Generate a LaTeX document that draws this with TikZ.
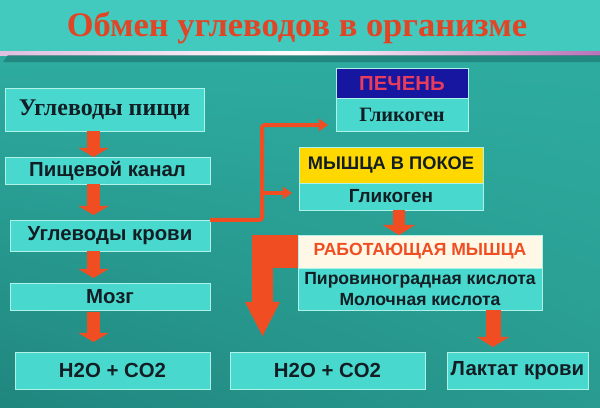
\documentclass[tikz,border=0pt]{standalone}
\usepackage{fontspec}
\setmainfont{Liberation Serif}
\setsansfont{Liberation Sans}
\usetikzlibrary{arrows.meta, shadings}
\definecolor{titlebg}{RGB}{66,202,190}
\definecolor{bodytop}{RGB}{46,172,160}
\definecolor{bodylow}{RGB}{32,134,126}
\definecolor{boxfill}{RGB}{72,216,206}
\definecolor{boxline}{RGB}{175,242,232}
\definecolor{arrowred}{RGB}{240,78,34}
\definecolor{titlered}{RGB}{224,70,38}
\definecolor{liverblue}{RGB}{22,22,160}
\definecolor{liverpink}{RGB}{232,60,92}
\definecolor{restyellow}{RGB}{255,216,0}
\definecolor{workcream}{RGB}{255,248,230}
\definecolor{inktext}{RGB}{18,30,36}
\tikzstyle{box}=[draw=boxline, line width=0.6pt, fill=boxfill, inner sep=0, outer sep=0, text=inktext]
\tikzstyle{sanslbl}=[font=\sffamily\bfseries\fontsize{14.5}{16}\selectfont]
\tikzstyle{seriflbl}=[font=\rmfamily\bfseries\fontsize{17}{19}\selectfont]
\tikzstyle{fatarrow}=[draw=arrowred, line width=0.325cm, -{Triangle[width=0.75cm,length=0.225cm]}]
\tikzstyle{thinline}=[draw=arrowred, line width=0.1cm, rounded corners=2pt, -{Triangle[width=0.3cm,length=0.225cm]}]

\begin{document}
\begin{tikzpicture}[x=0.025cm, y=-0.025cm]
\useasboundingbox (0,0) rectangle (600,408);
% background
\fill[titlebg] (0,0) rectangle (600,52);
\shade[upper left=bodytop, upper right=bodytop, lower left=bodylow, lower right=bodytop!90!black] (0,52) rectangle (600,408);
\shade[left color=violet!25!white, right color=violet!55!white, middle color=white] (0,51) rectangle (600,55);
\fill[bodylow!85!black, opacity=.6] (8,55) -- (600,55) -- (600,62) -- (3,62) -- cycle;
% title
\node[font=\rmfamily\bfseries\fontsize{24.5}{28}\selectfont, text=titlered] (title) at (297,28) {Обмен углеводов в организме};
% left column
\node at (104.5,109.5)[box, seriflbl, minimum width=4.975cm, minimum height=1.075cm](food){Углеводы пищи};
\node at (107.5,170.5)[box, sanslbl, minimum width=5.125cm, minimum height=0.675cm](canal){Пищевой канал};
\node at (110,235.5)[box, sanslbl, minimum width=5cm, minimum height=0.775cm](blood){Углеводы крови};
\node at (110,296.5)[box, sanslbl, minimum width=5cm, minimum height=0.675cm](brain){Мозг};
\node at (112.5,370.5)[box, sanslbl, minimum width=4.875cm, minimum height=0.925cm](outa){H2O + CO2};
% bottom row
\node at (327.5,370.5)[box, sanslbl, minimum width=4.875cm, minimum height=0.925cm](outb){H2O + CO2};
\node at (517.5,370.5)[box, sanslbl, minimum width=3.525cm, minimum height=0.925cm](lactate){Лактат крови};
% liver
\node at (402,83)[box, fill=liverblue, text=liverpink, sanslbl, minimum width=3.3cm, minimum height=0.75cm](liverhead){ПЕЧЕНЬ};
\node at (402,114.5)[box, font=\rmfamily\bfseries\fontsize{14.5}{16}\selectfont, minimum width=3.3cm, minimum height=0.825cm](liverbody){Гликоген};
% resting muscle
\node at (391,165)[box, fill=restyellow, font=\sffamily\bfseries\fontsize{13}{15}\selectfont, minimum width=4.6cm, minimum height=0.9cm](resthead){МЫШЦА В ПОКОЕ};
\node at (391,196.5)[box, font=\sffamily\bfseries\fontsize{13.5}{15}\selectfont, minimum width=4.6cm, minimum height=0.675cm](restbody){Гликоген};
% working muscle
\node at (420,251.5)[box, fill=workcream, text=arrowred, font=\sffamily\bfseries\fontsize{12.5}{14}\selectfont, minimum width=6.1cm, minimum height=0.825cm](workhead){РАБОТАЮЩАЯ МЫШЦА};
\node at (420,289)[box, align=center, font=\sffamily\bfseries\fontsize{12.5}{15}\selectfont, minimum width=6.1cm, minimum height=1.05cm](workbody){Пировиноградная кислота\\Молочная кислота};
% block arrows
\coordinate (lc) at (93.5,0);
\draw[fatarrow] (lc |- food.south) -- (lc |- canal.north);
\draw[fatarrow, shorten >=0.125cm] (lc |- canal.south) -- (lc |- blood.north);
\draw[fatarrow, shorten >=0.125cm] (lc |- blood.south) -- (lc |- brain.north);
\draw[fatarrow, shorten >=0.25cm, shorten <=0.05cm] (lc |- brain.south) -- (lc |- outa.north);
\coordinate (rc) at (399,0);
\draw[draw=arrowred, line width=0.3cm, -{Triangle[width=0.8cm,length=0.25cm]}] (rc |- restbody.south) -- (rc |- workhead.north);
\coordinate (lk) at (493,0);
\draw[draw=arrowred, line width=0.375cm, -{Triangle[width=0.8cm,length=0.25cm]}, shorten >=0.125cm] (lk |- workbody.south) -- (lk |- lactate.north);
\coordinate (bigcorner) at (253,268);
\coordinate (drop) at (262.5,337);
\fill[arrowred] (workhead.north west) rectangle (bigcorner);
\draw[draw=arrowred, line width=0.5cm, -{Triangle[width=0.8cm,length=0.875cm]}] (drop |- workhead.north) -- (drop);
% thin branches
\coordinate (fork) at (262,125);
\coordinate (liverin) at (328,125);
\coordinate (restin) at (292,193);
\draw[thinline] (blood.north east) -| (fork) -- (liverin);
\draw[thinline] (fork |- restin) -- (restin);
\end{tikzpicture}
\end{document}
